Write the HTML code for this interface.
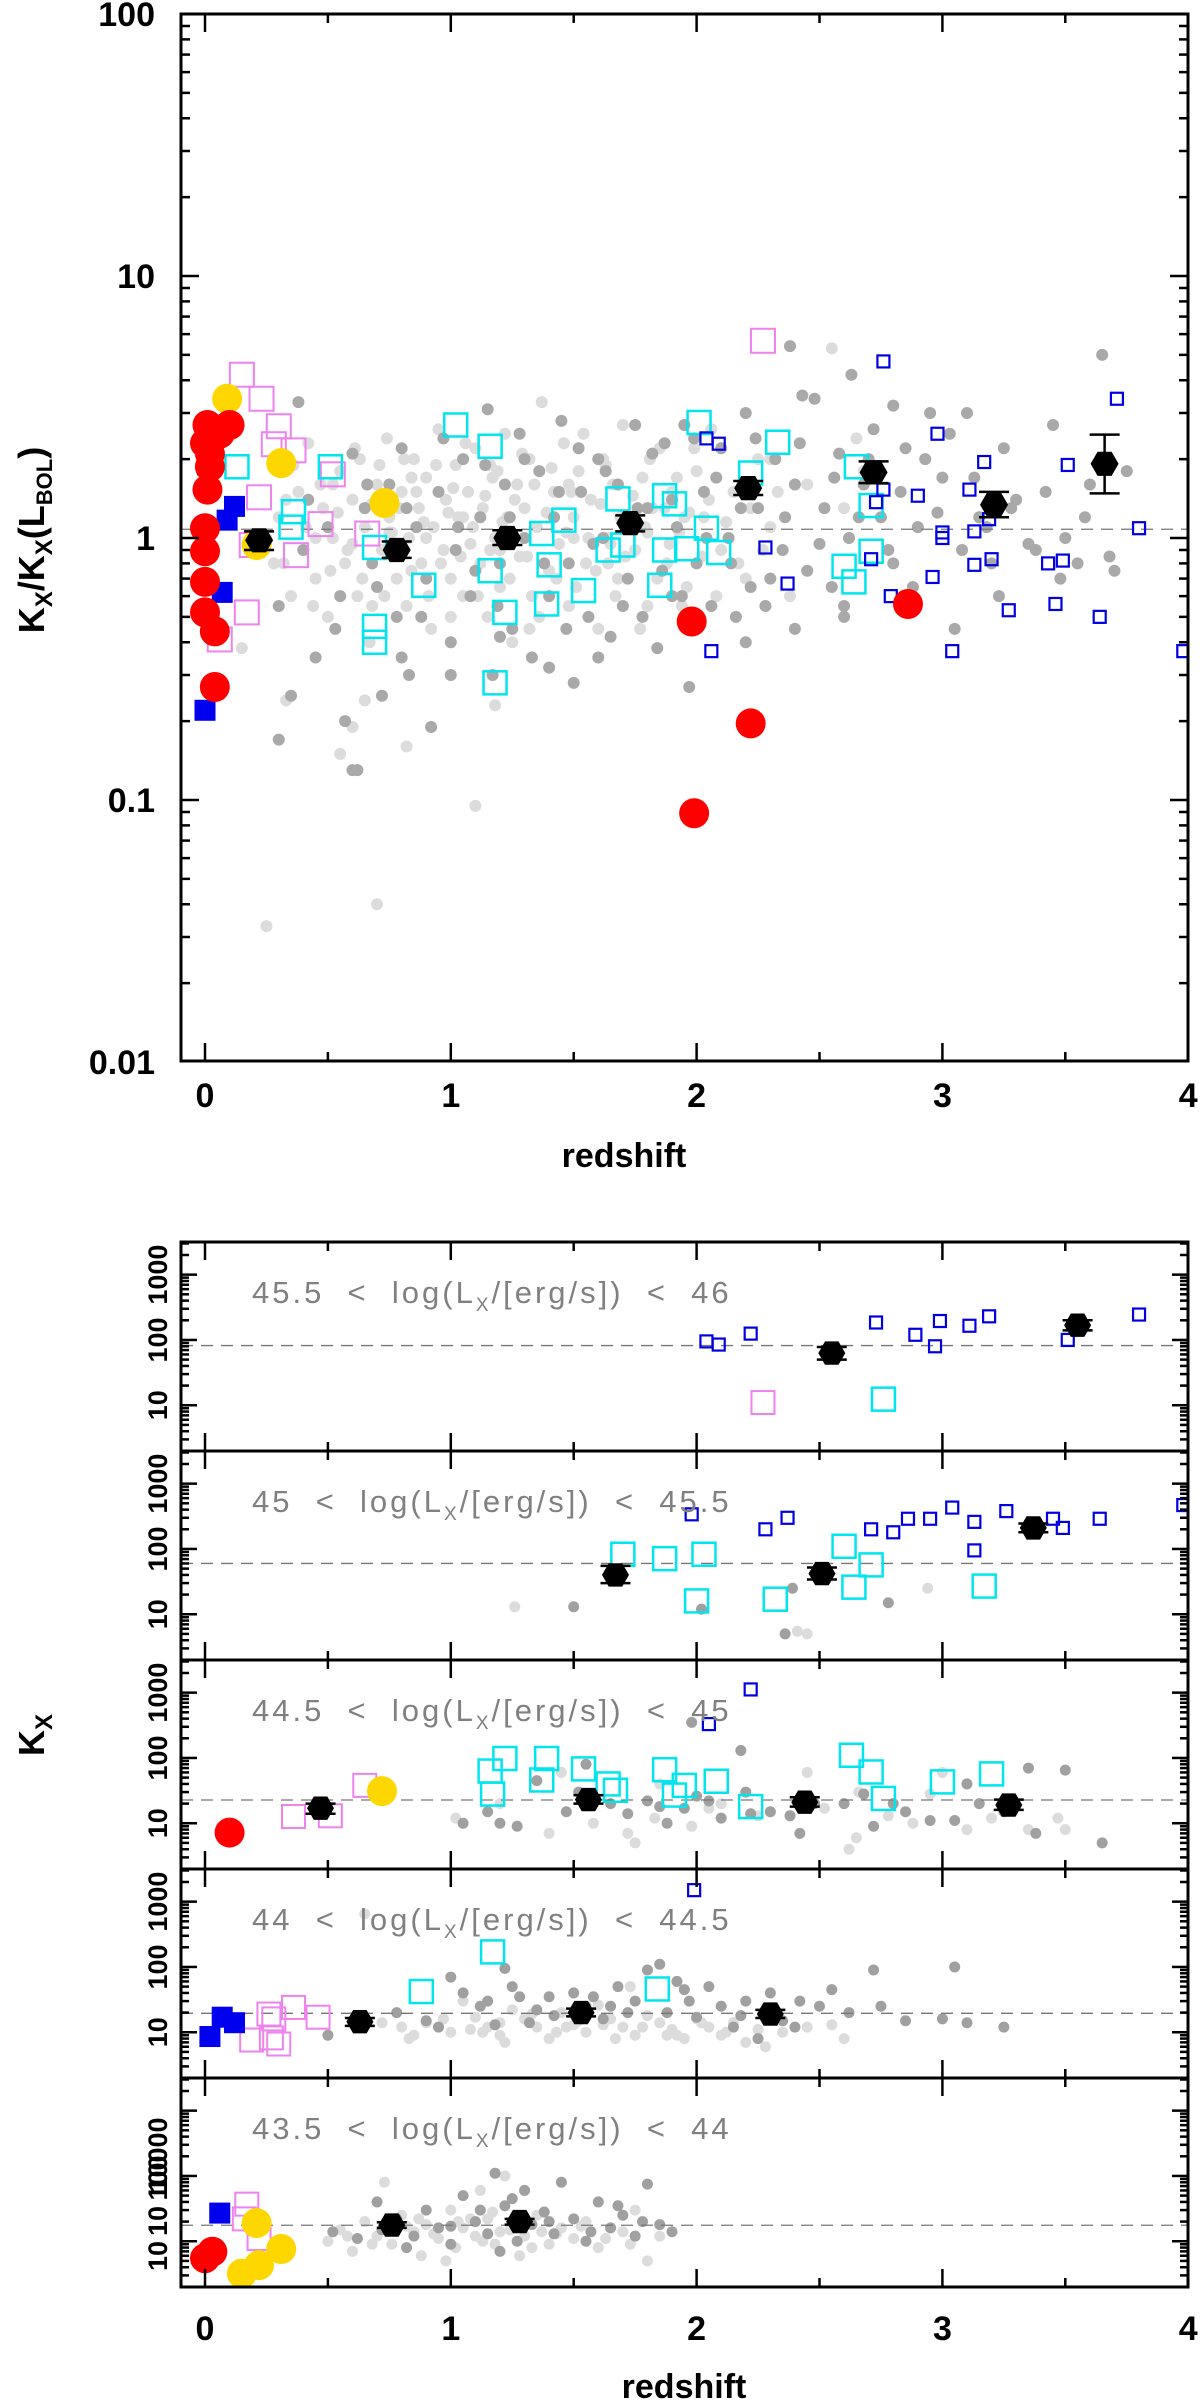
<!DOCTYPE html>
<html><head><meta charset="utf-8"><style>
html,body{margin:0;padding:0;background:#fff}
svg{display:block}
text{font-family:"Liberation Sans",sans-serif}
</style></head><body>
<svg id="fig" width="1200" height="2401" viewBox="0 0 1200 2401" xmlns="http://www.w3.org/2000/svg"></svg>
<script>
// ===== TOP PANEL DATA (redshift, Kx/Kx(Lbol)) =====
const topLightZ=[0.3,0.35,0.38,0.4,0.42,0.45,0.48,0.5,0.52,0.55,0.57,0.6,0.62,0.63,0.65,0.67,0.7,0.7,0.72,0.74,0.75,0.78,0.8,0.82,0.83,0.85,0.87,0.88,0.9,0.92,0.93,0.95,0.97,0.98,1.0,1.02,1.03,1.05,1.07,1.08,1.1,1.1,1.12,1.13,1.15,1.17,1.18,1.2,1.22,1.23,1.25,1.27,1.28,1.3,1.32,1.33,1.35,1.37,1.4,1.42,1.44,1.46,1.48,1.5,1.52,1.55,1.57,1.6,1.62,1.64,1.66,1.68,1.7,1.72,1.75,1.78,1.8,1.82,1.85,1.88,1.9,1.93,1.96,2.0,2.03,2.06,2.1,2.15,2.2,2.25,2.3,2.38,2.45,2.55,2.6,2.65,2.3,0.55,0.6,0.25,0.15,0.33,0.65,0.82,1.18,2.68,3.15,0.25,0.28,0.33];
const topLightK=[1.2,0.6,1.5,0.9,2.3,0.7,1.3,0.5,1.0,1.8,0.8,1.4,0.6,2.0,1.1,0.4,1.6,0.04,0.9,2.4,1.2,0.7,1.5,0.55,1.0,2.0,1.3,0.8,1.7,0.45,1.1,2.6,0.9,1.4,0.7,1.9,1.2,0.6,1.5,0.95,2.2,0.095,0.8,1.3,0.5,1.7,1.0,0.65,2.5,1.2,0.4,1.6,0.85,1.3,2.0,0.6,1.1,3.3,0.75,1.5,0.95,2.3,0.55,1.2,1.8,0.8,1.4,0.45,2.0,1.0,1.6,0.7,2.7,1.2,0.9,1.7,0.55,1.3,2.2,0.8,1.5,1.05,0.65,1.8,1.2,2.6,0.9,1.5,0.7,2.0,1.1,0.6,1.6,5.3,1.3,2.4,2.0,0.15,0.19,0.033,0.38,0.24,0.24,0.16,0.23,1.8,1.2,1.0,0.8,1.4];
const topLight2Z=[0.32,0.36,0.41,0.44,0.47,0.51,0.54,0.58,0.61,0.64,0.68,0.71,0.73,0.76,0.79,0.81,0.84,0.86,0.89,0.91,0.94,0.96,0.99,1.01,1.04,1.06,1.09,1.11,1.14,1.16,1.19,1.21,1.24,1.26,1.29,1.31,1.34,1.36,1.39,1.41,1.43,1.47,1.49,1.51,1.54,1.56,1.59,1.61,1.63,1.67,1.69,1.71,1.74,1.77,1.79,1.81,1.84,1.87,1.89,1.92,1.94,1.97,1.99,2.02,2.05,2.08,2.12,2.17,2.22,2.27,2.33,0.45,0.6,0.75,0.9,1.05,1.2,1.35,1.5,1.65,1.8,1.95,0.52,0.68,0.84,1.0,1.16,1.32,1.48,1.64];
const topLight2K=[0.8,1.9,1.1,0.55,1.6,0.75,1.25,0.9,2.2,0.7,1.35,1.9,0.6,1.05,1.3,2.0,0.75,1.5,1.15,0.6,1.9,0.8,1.25,1.55,0.85,2.3,1.1,0.6,1.45,0.9,1.8,1.15,0.7,1.4,2.1,0.85,1.6,0.5,1.25,1.85,0.7,1.05,1.5,0.65,2.5,1.0,0.75,1.35,1.9,0.6,1.2,0.85,1.45,0.45,1.1,2.0,0.7,1.3,0.95,1.7,0.55,1.25,2.2,0.85,1.4,0.6,1.15,0.8,1.3,0.9,1.5,1.0,0.95,1.05,1.0,1.2,0.9,1.1,1.0,0.95,1.05,1.2,1.6,0.55,1.7,0.5,1.9,0.45,1.6,0.8];
const topDarkZ=[0.3,0.35,0.38,0.42,0.45,0.5,0.55,0.6,0.62,0.65,0.68,0.72,0.75,0.78,0.8,0.83,0.86,0.9,0.92,0.95,1.0,1.02,1.05,1.08,1.12,1.15,1.17,1.2,1.22,1.25,1.28,1.3,1.33,1.36,1.4,1.42,1.45,1.48,1.5,1.53,1.56,1.6,1.62,1.65,1.68,1.72,1.75,1.78,1.8,1.84,1.87,1.9,1.92,1.95,1.97,2.0,2.03,2.06,2.1,2.13,2.16,2.2,2.22,2.25,2.28,2.32,2.35,2.4,2.45,2.48,2.52,2.55,2.58,2.62,2.68,2.72,2.75,2.8,2.85,2.9,2.95,3.0,3.05,3.1,3.15,3.2,3.25,3.3,3.38,3.45,3.5,3.55,3.6,3.65,3.7,2.38,2.43,2.8,2.63,0.3,0.6,0.57];
const topDarkK=[0.55,0.25,3.3,1.4,0.35,1.1,0.6,2.1,0.13,1.3,0.8,0.25,1.6,0.5,2.2,0.3,1.1,0.7,0.19,1.5,0.4,0.9,2.0,0.6,1.2,3.1,0.3,0.8,1.6,0.45,2.5,1.0,0.35,1.8,0.6,1.2,2.8,0.8,0.28,1.5,0.5,2.0,1.0,0.42,1.6,0.7,2.7,0.5,1.3,0.38,2.3,0.6,1.1,2.7,0.27,0.8,1.5,0.55,2.2,1.0,0.5,3.0,0.65,1.3,0.55,2.0,0.9,1.6,0.75,3.4,1.3,0.65,2.1,1.0,1.6,2.6,1.2,0.8,2.2,1.1,3.0,1.7,0.45,3.0,1.2,0.8,2.2,1.4,0.9,2.7,1.0,0.8,1.6,5.0,0.75,5.4,3.5,3.2,4.2,0.17,0.13,0.2];
const topDark2Z=[0.4,0.53,0.66,0.7,0.82,0.88,0.97,1.03,1.1,1.14,1.19,1.24,1.3,1.38,1.44,1.47,1.52,1.58,1.63,1.7,1.76,1.82,1.86,1.9,1.94,1.99,2.04,2.08,2.14,2.18,2.24,2.3,2.36,2.42,2.5,2.56,2.6,2.66,2.7,2.78,2.83,2.88,2.93,2.98,3.03,3.08,3.13,3.18,3.23,3.28,3.35,3.42,3.48,3.58,3.68,3.75,2.2,2.4,2.6,1.6,1.4,1.2,1.0,0.8];
const topDark2K=[0.9,0.45,1.6,0.65,1.3,0.5,2.4,1.1,0.75,1.9,0.55,1.2,2.0,0.8,1.5,0.45,2.2,0.95,1.8,0.55,1.3,2.1,0.75,1.4,0.6,2.4,1.0,1.7,0.8,1.3,2.4,0.7,1.2,2.3,0.95,1.7,0.55,1.2,2.0,0.9,1.5,0.65,2.0,1.25,2.5,0.9,1.7,1.1,0.6,1.3,0.95,1.5,0.7,1.2,0.85,1.8,0.4,0.45,0.5,0.35,0.32,0.42,0.3,0.35];
const topRedZ=[0.01,0.1,0.0,0.02,0.01,0.0,0.0,0.0,0.0,0.04,0.04,1.98,1.99,2.22,2.86,0.06,0.02];
const topRedK=[2.7,2.7,2.3,1.87,1.53,1.09,0.89,0.68,0.52,0.44,0.27,0.48,0.089,0.196,0.56,2.5,2.1];
const topYellowZ=[0.09,0.31,0.73,0.21];
const topYellowK=[3.4,1.93,1.36,0.94];
const topBlueFZ=[0.12,0.09,0.07,0.0,0.01];
const topBlueFK=[1.32,1.17,0.62,0.22,1.9];
const topVioletZ=[0.15,0.23,0.30,0.28,0.36,0.22,0.47,0.66,0.17,0.06,0.37,2.27,0.52,0.19];
const topVioletK=[4.2,3.4,2.67,2.28,2.16,1.43,1.13,1.04,0.52,0.41,0.86,5.66,1.75,0.94];
const topCyanZ=[0.13,0.51,0.36,0.35,0.69,0.69,0.69,0.89,1.02,1.16,1.16,1.22,1.18,1.37,1.46,1.4,1.39,1.54,1.68,1.64,1.7,1.87,1.91,1.87,1.96,1.85,2.01,2.04,2.09,2.22,2.33,2.65,2.71,2.71,2.6,2.64];
const topCyanK=[1.87,1.87,1.26,1.1,0.92,0.46,0.4,0.66,2.7,2.24,0.75,0.52,0.28,1.04,1.17,0.79,0.56,0.63,1.41,0.9,0.94,1.45,1.35,0.9,0.91,0.66,2.76,1.09,0.88,1.77,2.32,1.87,1.33,0.89,0.78,0.68];
const topBlueOZ=[2.04,2.09,2.06,2.28,2.37,2.76,2.73,2.76,2.71,2.79,2.9,2.98,3.0,3.0,2.96,3.04,3.11,3.17,3.13,3.19,3.13,3.2,3.27,3.46,3.43,3.49,3.51,3.71,3.64,3.8,3.98];
const topBlueOK=[2.4,2.29,0.37,0.92,0.67,4.72,1.37,1.53,0.83,0.6,1.45,2.5,1.05,1.0,0.71,0.37,1.53,1.95,1.06,1.18,0.79,0.83,0.53,0.56,0.8,0.82,1.9,3.4,0.5,1.09,0.37];
const topBinZ=[0.22,0.78,1.23,1.73,2.21,2.72,3.21,3.66];
const topBinK=[0.98,0.9,1.0,1.14,1.55,1.78,1.34,1.92];
const topBinLo=[0.9,0.84,0.94,1.06,1.46,1.62,1.2,1.48];
const topBinHi=[1.06,0.97,1.07,1.22,1.65,1.96,1.5,2.48];
const topDashK=1.08;
const topYTicks=[0.01,0.1,1,10,100];
const topYLabels=["0.01","0.1","1","10","100"];
const xTicks=[0,1,2,3,4];
const xLabels=["0","1","2","3","4"];

// ===== BOTTOM PANELS DATA =====
const pLabels=["45.5  <  log(L","45  <  log(L","44.5  <  log(L","44  <  log(L","43.5  <  log(L"];
const pLabelEnds=["46","45.5","45","44.5","44"];
const pDash=[82,60,22.7,19.5,17.6];
const p0BlueOZ=[2.04,2.09,2.22,2.73,2.89,2.99,2.97,3.11,3.19,3.51,3.8];
const p0BlueOK=[95,85,125,185,120,195,80,165,230,100,245];
const p0VioletZ=[2.27]; const p0VioletK=[11];
const p0CyanZ=[2.76]; const p0CyanK=[12.4];
const p0BinZ=[2.55,3.55]; const p0BinK=[63,168]; const p0BinLo=[50,140]; const p0BinHi=[78,200];
const p1BlueOZ=[1.98,2.28,2.37,2.71,2.8,2.86,2.95,3.04,3.13,3.13,3.26,3.45,3.49,3.64,3.98];
const p1BlueOK=[339,200,300,200,180,290,290,430,260,95,380,290,210,290,470];
const p1CyanZ=[1.7,1.87,2.03,2.0,2.32,2.6,2.71,2.64,3.17];
const p1CyanK=[83,71,83,16,17,110,57,26,27];
const p1LightZ=[1.26,2.94,2.41,2.45];
const p1LightK=[13,25,5.5,5];
const p1DarkZ=[1.5,2.39,2.78,2.36,2.02];
const p1DarkK=[13,25,15,5,12];
const p1BinZ=[1.67,2.51,3.37]; const p1BinK=[40,42,210]; const p1BinLo=[30,34,180]; const p1BinHi=[55,52,245];
const p2RedZ=[0.1]; const p2RedK=[7.2];
const p2VioletZ=[0.36,0.51,0.65]; const p2VioletK=[12.7,13,38];
const p2YellowZ=[0.72]; const p2YellowK=[31];
const p2BlueOZ=[2.22,2.05]; const p2BlueOK=[1120,330];
const p2CyanZ=[1.16,1.22,1.17,1.39,1.37,1.54,1.64,1.67,1.87,1.95,1.91,2.08,2.22,2.63,2.71,2.76,3.0,3.2];
const p2CyanK=[63,98,28,98,46,68,40,32,66,38,27,44,18,110,61,24,43,57];
const p2LightZ=[1.02,1.4,1.45,1.58,1.72,1.75,1.83,1.98,2.05,2.1,2.25,2.3,2.45,2.52,2.62,2.65,2.66,2.78,2.88,2.95,3.0,3.1,3.2,3.35,3.47,3.5,1.2,1.85];
const p2LightK=[12,7,60,10,7,5,12,9,17,20,13,15,60,17,4,6,30,13,10,28,60,8,12,8,12,8,20,40];
const p2DarkZ=[1.05,1.15,1.2,1.27,1.35,1.47,1.52,1.55,1.65,1.72,1.8,1.85,1.88,1.95,2.0,2.05,2.1,2.18,2.2,2.22,2.3,2.38,2.42,2.48,2.6,2.68,2.72,2.8,2.85,2.95,3.05,3.1,3.15,3.25,3.35,3.38,3.5,3.65,1.98];
const p2DarkK=[10,15,10,9,45,15,30,80,20,14,22,18,10,17,26,22,12,130,30,14,15,13,7,20,20,28,9,20,15,11,11,40,20,15,70,7,65,5,350];
const p2BinZ=[0.47,1.56,2.44,3.27]; const p2BinK=[17,23,21,19]; const p2BinLo=[14,20,18,16]; const p2BinHi=[20,27,25,23];
const p3BlueFZ=[0.02,0.07,0.12]; const p3BlueFK=[8.6,17,14];
const p3VioletZ=[0.26,0.19,0.27,0.3,0.36,0.46,0.28]; const p3VioletK=[19,7.6,8.2,6.6,24,17,16];
const p3CyanZ=[0.88,1.17,1.84]; const p3CyanK=[42,170,46];
const p3BlueOZ=[1.99]; const p3BlueOK=[1500];
const p3LightZ=[0.65,0.72,0.8,0.85,0.9,0.95,1.0,1.05,1.1,1.15,1.2,1.25,1.3,1.35,1.4,1.45,1.5,1.55,1.6,1.65,1.7,1.73,1.75,1.8,1.85,1.9,1.95,2.0,2.05,2.1,2.15,2.2,2.25,2.35,2.45,2.55,2.6,1.88,1.62,1.2,0.83,0.97,1.08,1.22,1.33,1.43,1.52,1.67,1.78,1.92,2.02,2.12,2.28,1.13,1.47];
const p3LightK=[650,14,12,9,14,12,10,30,17,12,9,22,16,12,8,20,13,10,26,16,12,50,9,18,14,11,8,16,12,9,14,7,11,10,12,13,8,9,13,14,8,16,11,7,19,10,15,8,12,9,14,10,6,10,12];
const p3DarkZ=[0.5,0.78,0.9,1.0,1.05,1.12,1.18,1.22,1.28,1.35,1.42,1.5,1.55,1.62,1.68,1.75,1.8,1.85,1.88,1.92,1.97,2.0,2.05,2.1,2.15,2.2,2.25,2.3,2.35,2.42,2.5,2.55,2.62,2.75,2.85,3.0,3.05,3.1,3.25,2.72,1.4,0.95,1.15,1.32,1.58,1.72,1.95,2.18,2.4,1.25,1.65];
const p3DarkK=[9,20,15,70,40,25,13,95,35,22,18,40,25,16,50,30,90,110,20,60,30,17,50,25,12,30,8,40,15,30,25,45,20,25,15,16,100,14,12,90,35,12,30,14,35,20,45,18,12,50,25];
const p3BinZ=[0.63,1.53,2.3]; const p3BinK=[14.5,20,19]; const p3BinLo=[12.5,17.5,16.5]; const p3BinHi=[16.5,23,22];
const p4RedZ=[0.03,0.0]; const p4RedK=[6.9,5.5];
const p4YellowZ=[0.21,0.31,0.22,0.15]; const p4YellowK=[19,7.6,4.3,3.2];
const p4BlueFZ=[0.06]; const p4BlueFK=[27];
const p4VioletZ=[0.17,0.16,0.22]; const p4VioletK=[37,22,11];
const p4LightZ=[0.5,0.55,0.6,0.65,0.7,0.73,0.76,0.8,0.85,0.88,0.9,0.95,1.0,1.02,1.05,1.1,1.12,1.15,1.18,1.2,1.22,1.25,1.28,1.3,1.35,1.4,1.45,1.5,1.55,1.6,1.7,1.75,1.8,1.85,0.98,1.08,0.58,0.68,0.82,0.93,1.03,1.13,1.24,1.33,1.43,1.53,1.63,1.73,0.87,1.17,1.37];
const p4LightK=[10,15,7,20,12,80,9,25,14,6,18,11,30,8,16,12,60,22,9,14,100,18,6,12,25,9,16,11,20,8,14,30,5,12,5,22,12,9,17,13,20,10,15,8,13,17,11,9,22,28,14];
const p4DarkZ=[0.52,0.62,0.7,0.78,0.82,0.9,0.95,1.0,1.05,1.1,1.15,1.18,1.22,1.27,1.3,1.33,1.38,1.42,1.45,1.5,1.55,1.6,1.65,1.7,1.75,1.8,1.85,1.9,1.2,1.0,0.72,0.85,1.12,1.25,1.4,1.57,1.68,1.78];
const p4DarkK=[14,11,40,22,8,30,16,9,50,20,13,110,35,10,60,18,28,13,80,22,10,40,16,25,12,75,18,14,7,17,15,12,30,45,20,14,35,20];
const p4BinZ=[0.76,1.28]; const p4BinK=[17.7,20]; const p4BinLo=[16,18]; const p4BinHi=[19.5,22];
const botYTicks=[10,100,1000];
const botYLabels=["10","100","1000"];

// ===== DRAWING =====
const NS="http://www.w3.org/2000/svg";
const svg=document.getElementById('fig');
function mk(tag,attrs,parent){const e=document.createElementNS(NS,tag);for(const k in attrs)e.setAttribute(k,attrs[k]);(parent||svg).appendChild(e);return e;}
const X=z=>205+z*245.8;
const XL=181, XR=1188;
const YT=v=>538-Math.log10(v)*262;
const PT=[1242,1451,1660,1869,2078]; const PH=209;
const YP=(i,v)=>PT[i]+(3.5-Math.log10(v))*65.3;

function grp(name){const g=mk('g',{});


return g;}

function dots(zs,ks,yf,r,fill,g){for(let i=0;i<zs.length;i++){const c=mk('circle',{cx:X(zs[i]),cy:yf(ks[i]),r:r,fill:fill},g);

}}
function sqs(zs,ks,yf,s,stroke,fill,sw,g){for(let i=0;i<zs.length;i++){const c=mk('rect',{x:X(zs[i])-s/2,y:yf(ks[i])-s/2,width:s,height:s,fill:fill,stroke:stroke,'stroke-width':sw},g);

}}
function hexes(zs,ks,lo,hi,yf,r,g){for(let i=0;i<zs.length;i++){const cx=X(zs[i]),cy=yf(ks[i]);
const y1=yf(hi[i]),y2=yf(lo[i]);
mk('line',{x1:cx,x2:cx,y1:y1,y2:y2,stroke:'#000','stroke-width':2.5},g);
mk('line',{x1:cx-15,x2:cx+15,y1:y1,y2:y1,stroke:'#000','stroke-width':2.5},g);
mk('line',{x1:cx-15,x2:cx+15,y1:y2,y2:y2,stroke:'#000','stroke-width':2.5},g);
let p=[];for(let a=0;a<6;a++){const t=a*Math.PI/3;p.push((cx+r*Math.cos(t)).toFixed(1)+','+(cy+r*Math.sin(t)).toFixed(1));}
const h=mk('polygon',{points:p.join(' '),fill:'#000'},g);

}}

function logTicks(yf,vmin,vmax,top,bot,g,maj,mn){
  for(let d=Math.floor(Math.log10(vmin));d<=Math.ceil(Math.log10(vmax));d++){
    for(let m=1;m<10;m++){const v=m*Math.pow(10,d);const y=yf(v);if(y<top-0.5||y>bot+0.5)continue;
      const L=(m===1)?maj:mn;
      mk('line',{x1:XL,x2:XL+L,y1:y,y2:y,stroke:'#000','stroke-width':2.5},g);
      mk('line',{x1:XR,x2:XR-L,y1:y,y2:y,stroke:'#000','stroke-width':2.5},g);}}}
function xTickMarks(top,bot,g,maj,mn){
  for(let z=-0.0;z<=4.001;z+=0.5){const x=X(z);const L=(Math.abs(z-Math.round(z))<0.01)?maj:mn;
    mk('line',{x1:x,x2:x,y1:bot,y2:bot-L,stroke:'#000','stroke-width':2.5},g);
    mk('line',{x1:x,x2:x,y1:top,y2:top+L,stroke:'#000','stroke-width':2.5},g);}}

// ---- Top panel ----
const gt=grp('top-panel');
const clipT=mk('clipPath',{id:'ct'});mk('rect',{x:XL,y:14,width:XR-XL,height:1047},clipT);
const gtd=mk('g',{'clip-path':'url(#ct)'},gt);
dots(topLightZ,topLightK,YT,6,'#dcdcdc',gtd);
dots(topLight2Z,topLight2K,YT,6,'#dcdcdc',gtd);
dots(topDarkZ,topDarkK,YT,6,'#a9a9a9',gtd);
dots(topDark2Z,topDark2K,YT,6,'#a9a9a9',gtd);
mk('line',{x1:XL,x2:XR,y1:YT(topDashK),y2:YT(topDashK),stroke:'#777','stroke-width':1.3,'stroke-dasharray':'12,8'},gtd);
sqs(topVioletZ,topVioletK,YT,24,'#ee82ee','none',2,gtd);
sqs(topCyanZ,topCyanK,YT,23,'#00e5ee','none',2.5,gtd);
sqs(topBlueOZ,topBlueOK,YT,12,'#0000e0','none',2.2,gtd);
sqs(topBlueFZ,topBlueFK,YT,21,'none','#0000ee',0,gtd);
dots(topYellowZ,topYellowK,YT,15,'#ffd700',gtd);
dots(topRedZ,topRedK,YT,15,'#ff0000',gtd);
hexes(topBinZ,topBinK,topBinLo,topBinHi,YT,14,gtd);
mk('rect',{x:XL,y:14,width:XR-XL,height:1047,fill:'none',stroke:'#000','stroke-width':3},gt);
logTicks(YT,0.01,100,14,1061,gt,18,9);
xTickMarks(14,1061,gt,18,9);
topYTicks.forEach((v,i)=>{const t=mk('text',{x:155,y:YT(v)+12,'text-anchor':'end','font-size':34,'font-weight':'bold'},gt);t.textContent=topYLabels[i];

});
xTicks.forEach((v,i)=>{const t=mk('text',{x:X(v),y:1107,'text-anchor':'middle','font-size':34,'font-weight':'bold'},gt);t.textContent=xLabels[i];

});
const xt1=mk('text',{x:624,y:1167,'text-anchor':'middle','font-size':34,'font-weight':'bold'},gt);xt1.textContent='redshift';


const yt1=mk('text',{transform:'translate(44,540) rotate(-90)','text-anchor':'middle','font-size':36,'font-weight':'bold'},gt);
yt1.innerHTML='K<tspan font-size="24" dy="8">X</tspan><tspan dy="-8">/K</tspan><tspan font-size="24" dy="8">X</tspan><tspan dy="-8">(L</tspan><tspan font-size="22" dy="8">BOL</tspan><tspan dy="-8">)</tspan>';



// ---- Bottom panels ----
const panelData=[
 {l:[],d:[],vio:[p0VioletZ,p0VioletK],cy:[p0CyanZ,p0CyanK],bo:[p0BlueOZ,p0BlueOK],bf:null,ye:null,re:null,bin:[p0BinZ,p0BinK,p0BinLo,p0BinHi]},
 {l:[p1LightZ,p1LightK],d:[p1DarkZ,p1DarkK],vio:null,cy:[p1CyanZ,p1CyanK],bo:[p1BlueOZ,p1BlueOK],bf:null,ye:null,re:null,bin:[p1BinZ,p1BinK,p1BinLo,p1BinHi]},
 {l:[p2LightZ,p2LightK],d:[p2DarkZ,p2DarkK],vio:[p2VioletZ,p2VioletK],cy:[p2CyanZ,p2CyanK],bo:[p2BlueOZ,p2BlueOK],bf:null,ye:[p2YellowZ,p2YellowK],re:[p2RedZ,p2RedK],bin:[p2BinZ,p2BinK,p2BinLo,p2BinHi]},
 {l:[p3LightZ,p3LightK],d:[p3DarkZ,p3DarkK],vio:[p3VioletZ,p3VioletK],cy:[p3CyanZ,p3CyanK],bo:[p3BlueOZ,p3BlueOK],bf:[p3BlueFZ,p3BlueFK],ye:null,re:null,bin:[p3BinZ,p3BinK,p3BinLo,p3BinHi]},
 {l:[p4LightZ,p4LightK],d:[p4DarkZ,p4DarkK],vio:[p4VioletZ,p4VioletK],cy:null,bo:null,bf:[p4BlueFZ,p4BlueFK],ye:[p4YellowZ,p4YellowK],re:[p4RedZ,p4RedK],bin:[p4BinZ,p4BinK,p4BinLo,p4BinHi]}
];
for(let i=0;i<5;i++){
  const g=grp('luminosity-panel-'+(i+1));
  const top=PT[i],bot=PT[i]+PH;const yf=v=>YP(i,v);
  const cp=mk('clipPath',{id:'cp'+i});mk('rect',{x:XL,y:top,width:XR-XL,height:PH},cp);
  const gd=mk('g',{'clip-path':'url(#cp'+i+')'},g);
  const P=panelData[i];
  if(P.l.length)dots(P.l[0],P.l[1],yf,5.5,'#dcdcdc',gd);
  if(P.d.length)dots(P.d[0],P.d[1],yf,5.5,'#a0a0a0',gd);
  mk('line',{x1:XL,x2:XR,y1:yf(pDash[i]),y2:yf(pDash[i]),stroke:'#777','stroke-width':1.3,'stroke-dasharray':'12,8'},gd);
  if(P.vio)sqs(P.vio[0],P.vio[1],yf,23,'#ee82ee','none',2,gd);
  if(P.cy)sqs(P.cy[0],P.cy[1],yf,23,'#00e5ee','none',2.5,gd);
  if(P.bo)sqs(P.bo[0],P.bo[1],yf,12,'#0000e0','none',2.2,gd);
  if(P.bf)sqs(P.bf[0],P.bf[1],yf,21,'none','#0000ee',0,gd);
  if(P.ye)dots(P.ye[0],P.ye[1],yf,15,'#ffd700',gd);
  if(P.re)dots(P.re[0],P.re[1],yf,15,'#ff0000',gd);
  hexes(P.bin[0],P.bin[1],P.bin[2],P.bin[3],yf,13.5,gd);
  mk('rect',{x:XL,y:top,width:XR-XL,height:PH,fill:'none',stroke:'#000','stroke-width':3},g);
  logTicks(yf,1,10000,top,bot,g,16,8);
  xTickMarks(top,bot,g,18,9);
  const lt=mk('text',{x:252,y:top+61,'font-size':31,'letter-spacing':3,fill:'#808080','font-family':'Liberation Serif, serif'},g);
  lt.innerHTML=pLabels[i].replace(/ /g,'\u00a0')+'<tspan font-size="19" dy="8">X</tspan><tspan dy="-8">/[erg/s])\u00a0\u00a0&lt;\u00a0\u00a0'+pLabelEnds[i]+'</tspan>';
  
  
  if(i<4){
    botYTicks.forEach((v,j)=>{const t=mk('text',{transform:'translate(167,'+yf(v)+') rotate(-90)','text-anchor':'middle','font-size':27,'font-weight':'bold'},g);t.textContent=botYLabels[j];
    
    });
  } else {
    const lbls=[["10",2256],["10",2221],["100",2178],["10000",2155]];
    lbls.forEach(a=>{const t=mk('text',{transform:'translate(167,'+a[1]+') rotate(-90)','text-anchor':'middle','font-size':27,'font-weight':'bold'},g);t.textContent=a[0];
    
    });
  }
}
xTicks.forEach((v,i)=>{const t=mk('text',{x:X(v),y:2340,'text-anchor':'middle','font-size':34,'font-weight':'bold'});t.textContent=xLabels[i];

});
const xt2=mk('text',{x:684,y:2398,'text-anchor':'middle','font-size':34,'font-weight':'bold'});xt2.textContent='redshift';


const yt2=mk('text',{transform:'translate(44,1735) rotate(-90)','text-anchor':'middle','font-size':36,'font-weight':'bold'});
yt2.innerHTML='K<tspan font-size="24" dy="8">X</tspan>';


</script>
</body></html>
